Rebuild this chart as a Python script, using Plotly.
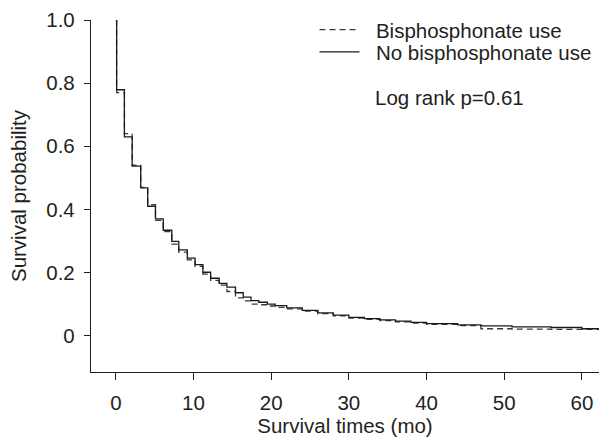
import plotly.graph_objects as go

# Step times (months) and survival probabilities
times = [0, 0.1, 1.1, 2.1, 3.2, 4.1, 5.1, 6.1, 7.2, 8.1, 9.2, 10.2, 11.2, 12.2,
         13.3, 14.3, 15.4, 16.4, 17.4, 18.4, 19.5, 20.5, 22, 24, 26, 28, 30,
         32, 34, 36, 38, 40, 44, 47, 51, 56, 60, 62.2]

no_bisphos = [1.0, 0.779, 0.63, 0.537, 0.468, 0.41, 0.37, 0.334, 0.299, 0.272,
              0.246, 0.225, 0.201, 0.182, 0.166, 0.154, 0.136, 0.122, 0.111,
              0.106, 0.1, 0.095, 0.088, 0.08, 0.072, 0.065, 0.058, 0.054, 0.05,
              0.046, 0.042, 0.038, 0.034, 0.031, 0.028, 0.026, 0.022, 0.022]

bisphos = [1.0, 0.77, 0.64, 0.54, 0.47, 0.415, 0.365, 0.33, 0.29, 0.265, 0.24,
           0.22, 0.195, 0.175, 0.16, 0.14, 0.12, 0.11, 0.1, 0.098, 0.094, 0.09,
           0.085, 0.078, 0.07, 0.063, 0.056, 0.052, 0.048, 0.044, 0.04, 0.036,
           0.032, 0.022, 0.021, 0.02, 0.02, 0.02]

x_ticks = [0, 10, 20, 30, 40, 50, 60]
y_ticks = [0, 0.2, 0.4, 0.6, 0.8, 1.0]
y_tick_labels = ["0", "0.2", "0.4", "0.6", "0.8", "1.0"]

FONT = "Liberation Sans, Arial, sans-serif"
TXT = "#231f20"
FS = 20.5
PAD = "\u00a0\u00a0"

fig = go.Figure()
fig.add_trace(go.Scatter(x=times, y=bisphos, mode="lines", line_shape="hv",
                         name=PAD + "Bisphosphonate use", legend="legend",
                         line=dict(color="#3a3a3a", width=1.3, dash="6px,4px")))
fig.add_trace(go.Scatter(x=times, y=no_bisphos, mode="lines", line_shape="hv",
                         name=PAD + "No bisphosphonate use", legend="legend2",
                         line=dict(color="#1a1a1a", width=1.3)))

fig.add_annotation(text="Log rank p=0.61", xref="paper", yref="paper",
                   x=0.556, y=0.781, xanchor="left", yanchor="middle",
                   showarrow=False, font=dict(size=FS, color=TXT, family=FONT))

leg_common = dict(xanchor="left", yanchor="middle", bgcolor="rgba(0,0,0,0)",
                  font=dict(size=FS, color=TXT, family=FONT), itemwidth=40)

fig.update_layout(
    width=611, height=437,
    margin=dict(l=91, r=12, t=20, b=65, autoexpand=False),
    paper_bgcolor="white", plot_bgcolor="white",
    font=dict(family=FONT, size=FS, color=TXT),
    showlegend=True,
    legend=dict(x=0.44, y=0.972, **leg_common),
    legend2=dict(x=0.44, y=0.909, **leg_common),
    xaxis=dict(range=[-3.2, 62.2], tickvals=x_ticks, ticks="outside", ticklen=7,
               tickcolor=TXT, showline=True, linecolor=TXT, linewidth=1.3,
               showgrid=False, zeroline=False, ticklabelstandoff=5,
               automargin=False,
               title=dict(text="Survival times (mo)", standoff=1,
                          font=dict(size=FS, color=TXT))),
    yaxis=dict(range=[-0.115, 1.0], tickvals=y_ticks, ticktext=y_tick_labels,
               ticks="outside", ticklen=6, tickcolor=TXT, showline=True,
               linecolor=TXT, linewidth=1.3, showgrid=False, zeroline=False,
               ticklabelstandoff=5, automargin=False,
               title=dict(text="Survival probability", standoff=14,
                          font=dict(size=FS, color=TXT))),
)

fig.write_html("out.html", config={"displayModeBar": False},
               post_script="document.body.style.margin='0';"
                           "document.body.style.overflow='hidden';")
